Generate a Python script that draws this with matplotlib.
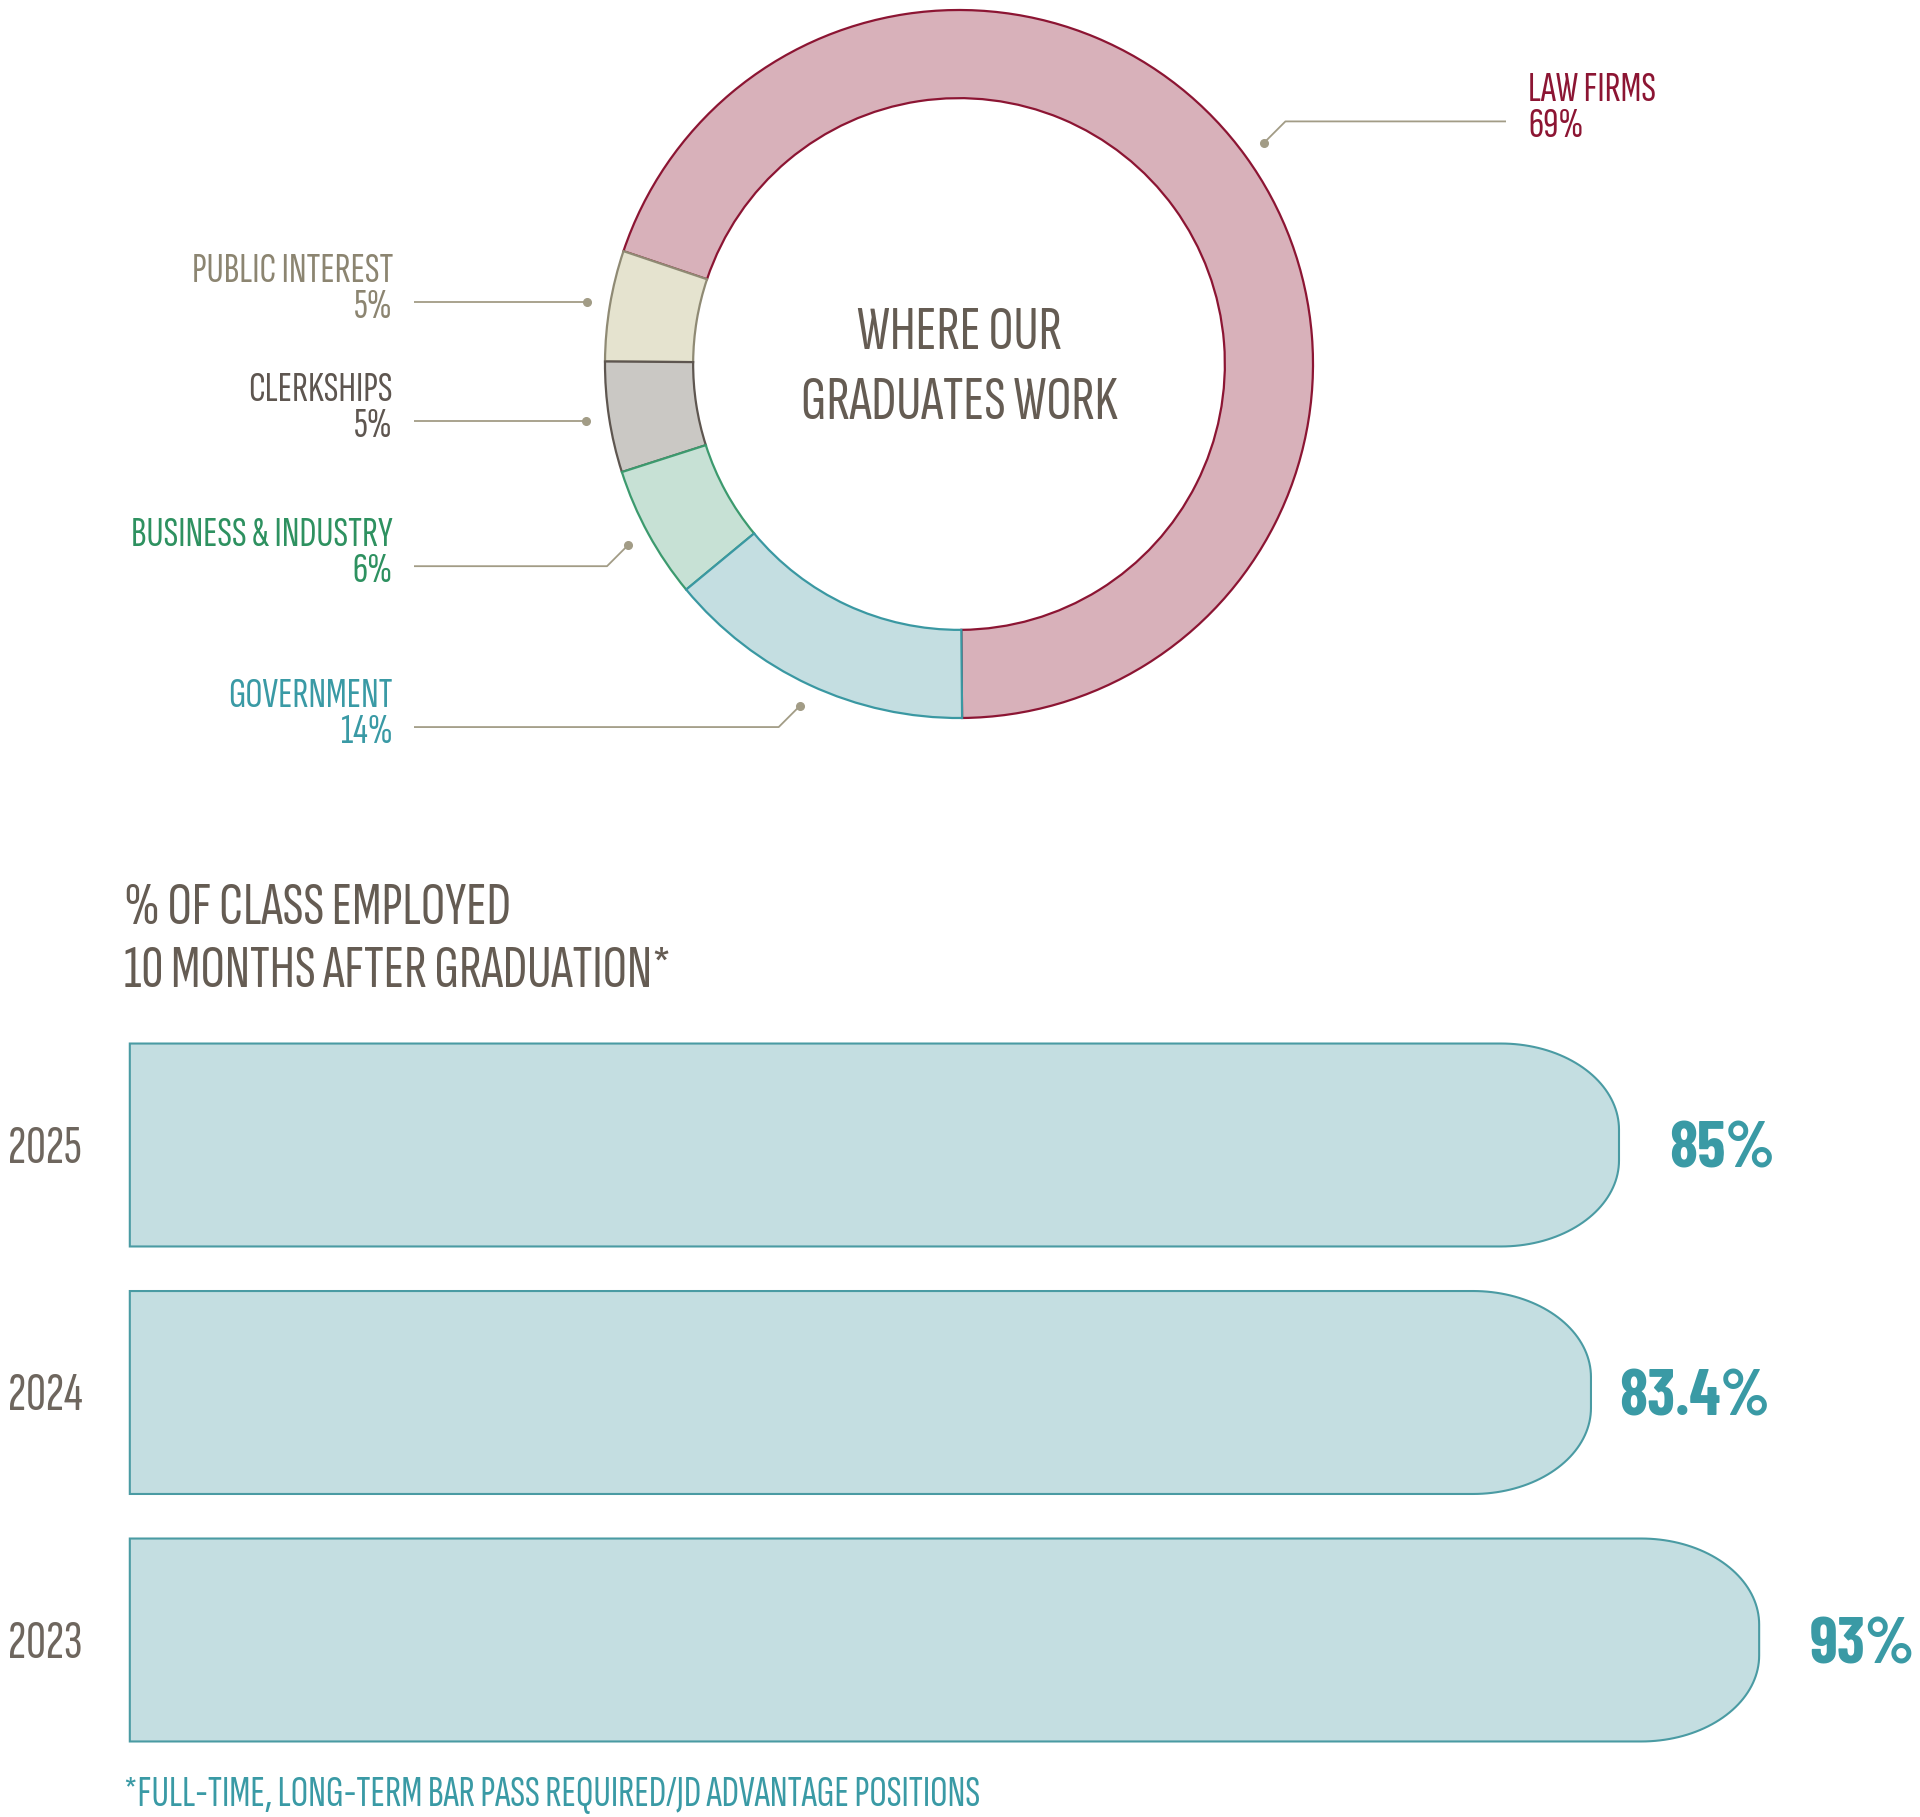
import matplotlib
matplotlib.use("Agg")
import matplotlib.pyplot as plt
import numpy as np
from matplotlib.path import Path
from matplotlib.patches import PathPatch
from matplotlib.textpath import TextPath
from matplotlib.font_manager import FontProperties

FONT = "Sofia Sans Extra Condensed"
BOLD_FONT = "Barlow Condensed"
W, H, DPI = 1920, 1817, 100

# --- data ---
sectors = ["LAW FIRMS", "PUBLIC INTEREST", "CLERKSHIPS", "BUSINESS & INDUSTRY", "GOVERNMENT"]
shares = [69, 5, 5, 6, 14]
fills = ["#D8B1BA", "#E5E3CF", "#CAC8C4", "#C7E1D5", "#C4DEE1"]
edges = ["#8C1533", "#8F8A74", "#5E5650", "#3C9A6E", "#3A98A2"]
label_colors = ["#8C1533", "#8C8571", "#5E5650", "#2E9160", "#3A9AA5"]

years = ["2025", "2024", "2023"]
employed = [85, 83.4, 93]
employed_labels = ["85%", "83.4%", "93%"]

GREY = "#655C53"
TEAL = "#3A9AA5"
LEADER = "#A29C86"


def cap_ratio(family, weight):
    fp = FontProperties(family=family, weight=weight)
    return TextPath((0, 0), "H", size=1, prop=fp).get_extents().height


CAP_M = cap_ratio(FONT, "medium")
CAP_B = cap_ratio(BOLD_FONT, "bold")


def pt(cap_px, ratio=CAP_M):
    # font size in points giving a cap height of cap_px pixels
    return cap_px / ratio * 72 / DPI


fig = plt.figure(figsize=(W / DPI, H / DPI), dpi=DPI)
fig.patch.set_facecolor("white")

# --- donut ---
R, CX, CY = 354.0, 959.0, 364.0
ax1 = fig.add_axes([(CX - R) / W, 1 - (CY + R) / H, 2 * R / W, 2 * R / H])
wedges, _ = ax1.pie(shares, radius=1, startangle=-89.5, counterclock=True, colors=fills,
                    wedgeprops=dict(width=0.249, linewidth=1.6))
for w, ec in zip(wedges, edges):
    w.set_edgecolor(ec)
    w.set_clip_on(False)
ax1.set_xlim(-1, 1)
ax1.set_ylim(-1, 1)
ax1.axis("off")

u = lambda x: (x - CX) / R
left_end, left_text = u(414), u(393)
right_end, right_text = u(1506), u(1528)
elbow = 0.06
for i, w in enumerate(wedges):
    mid = np.deg2rad((w.theta1 + w.theta2) / 2)
    dx, dy = 1.065 * np.cos(mid), 1.065 * np.sin(mid)
    if i == 0:
        xs, ys = [dx, dx + elbow, right_end], [dy, dy + elbow, dy + elbow]
        tx, ha = right_text, "left"
    elif i in (1, 2):
        xs, ys = [dx, left_end], [dy, dy]
        tx, ha = left_text, "right"
    else:
        xs, ys = [dx, dx - elbow, left_end], [dy, dy - elbow, dy - elbow]
        tx, ha = left_text, "right"
    ax1.plot(xs, ys, color=LEADER, lw=1.3, clip_on=False, solid_capstyle="butt")
    ax1.plot(dx, dy, "o", ms=5.5, color=LEADER, clip_on=False)
    yh = ys[-1]
    ax1.text(tx, yh + 20 / R, sectors[i], ha=ha, va="baseline", color=label_colors[i],
             family=FONT, weight="medium", fontsize=pt(28), clip_on=False)
    ax1.text(tx, yh - 16 / R, f"{shares[i]}%", ha=ha, va="baseline", color=label_colors[i],
             family=FONT, weight="medium", fontsize=pt(28), clip_on=False)

ax1.text(0, 0.042, "WHERE OUR", ha="center", va="baseline", color=GREY,
         family=FONT, weight="medium", fontsize=pt(41))
ax1.text(0, -0.155, "GRADUATES WORK", ha="center", va="baseline", color=GREY,
         family=FONT, weight="medium", fontsize=pt(41))

# --- employment bars ---
fig.text(124 / W, 1 - 924 / H, "% OF CLASS EMPLOYED", ha="left", va="baseline",
         color=GREY, family=FONT, weight="medium", fontsize=pt(40))
fig.text(124 / W, 1 - 987 / H, "10 MONTHS AFTER GRADUATION*", ha="left", va="baseline",
         color=GREY, family=FONT, weight="medium", fontsize=pt(40))

X0, PX_PER_PCT = 129.8, 17.52
ROW = 247.5
top_px, bot_px = 1145 - 0.6 * ROW, 1640 + 0.6 * ROW
ax2 = fig.add_axes([X0 / W, 1 - bot_px / H, (W - X0) / W, (bot_px - top_px) / H])
ax2.set_xlim(0, (W - X0) / PX_PER_PCT)
ax2.set_ylim(2.6, -0.6)
ax2.axis("off")

hh = 0.41
rx = 118 / PX_PER_PCT
ry = 86 / ROW


def bar_path(x1, yc):
    t1 = np.linspace(-np.pi / 2, 0, 40)
    t2 = np.linspace(0, np.pi / 2, 40)
    cx = x1 - rx
    c1 = yc - hh + ry
    c2 = yc + hh - ry
    xs = [0] + list(cx + rx * np.cos(t1)) + list(cx + rx * np.cos(t2)) + [0, 0]
    ys = [yc - hh] + list(c1 + ry * np.sin(t1)) + list(c2 + ry * np.sin(t2)) + [yc + hh, yc - hh]
    codes = [Path.MOVETO] + [Path.LINETO] * (len(xs) - 2) + [Path.CLOSEPOLY]
    return Path(np.column_stack([xs, ys]), codes)


for i, (yr, val, lab) in enumerate(zip(years, employed, employed_labels)):
    ax2.add_patch(PathPatch(bar_path(val, i), facecolor="#C4DEE1", edgecolor="#4A9BA3",
                            lw=1.5, clip_on=False))
    ax2.text((8 - X0) / PX_PER_PCT, i + 18 / ROW, yr, ha="left", va="baseline",
             color="#6E665E", family=FONT, weight="medium", fontsize=pt(36), clip_on=False)
    ax2.text(val + 5.9, i + 23 / ROW, lab, ha="center", va="baseline", color=TEAL,
             family=BOLD_FONT, weight="bold", fontsize=pt(45, CAP_B), clip_on=False)

fig.text(124 / W, 1 - 1806 / H, "*FULL-TIME, LONG-TERM BAR PASS REQUIRED/JD ADVANTAGE POSITIONS",
         ha="left", va="baseline", color=TEAL, family=FONT, weight="medium", fontsize=pt(28.5))

fig.savefig("out.png", dpi=DPI, facecolor="white")
